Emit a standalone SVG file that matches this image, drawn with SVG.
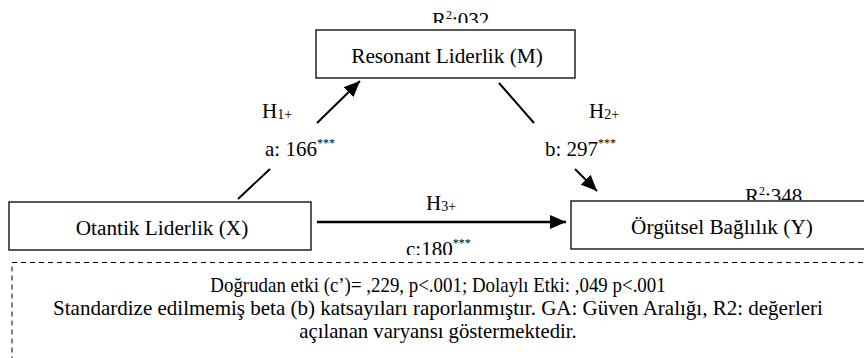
<svg xmlns="http://www.w3.org/2000/svg" width="864" height="358" viewBox="0 0 864 358" font-family="'Liberation Serif', 'Times New Roman', Times, serif">
<style>
text{font-family:'Liberation Serif','Times New Roman',Times,serif;fill:#000}
.lbl{font-size:21.3px}
.h{font-size:21px}
.sub{font-size:14px}
.sup{font-size:12px;fill:#000}
.foot{font-size:21px}
.box{fill:#fff;stroke:#000;stroke-width:1.3}
.ln{stroke:#000;stroke-width:2;fill:none}
</style>
<defs>
<marker id="ah" viewBox="0 0 16 14" refX="16" refY="7" markerWidth="16" markerHeight="14" markerUnits="userSpaceOnUse" orient="auto">
<path d="M0,0 L16,7 L0,14 Z" fill="#000"/>
</marker>
<clipPath id="c1"><rect x="0" y="0" width="864" height="23"/></clipPath>
<clipPath id="c2"><rect x="0" y="0" width="864" height="200"/></clipPath>
<clipPath id="c3"><rect x="0" y="0" width="864" height="255"/></clipPath>
</defs>
<g id="note">
<rect x="12" y="262.5" width="870" height="120" fill="none" stroke="#000" stroke-width="1" stroke-dasharray="5,4"/>
<text class="foot" x="0" y="0" text-anchor="middle" transform="translate(438,292) scale(0.9,1)">Doğrudan etki (c’)= ,229, p&lt;.001; Dolaylı Etki: ,049 p&lt;.001</text>
<text class="foot" x="438" y="315" text-anchor="middle">Standardize edilmemiş beta (b) katsayıları raporlanmıştır. GA: Güven Aralığı, R2: değerleri</text>
<text class="foot" x="438" y="338" text-anchor="middle" style="font-size:20.7px">açılanan varyansı göstermektedir.</text>
</g>
<g id="connectors">
<line class="ln" x1="238" y1="199" x2="270" y2="169"/>
<line class="ln" x1="317" y1="123" x2="360" y2="81" marker-end="url(#ah)"/>
<line class="ln" x1="499" y1="83" x2="534" y2="123"/>
<line class="ln" x1="575" y1="169" x2="597" y2="191" marker-end="url(#ah)"/>
<line class="ln" x1="317" y1="222" x2="566" y2="222" marker-end="url(#ah)" style="stroke-width:2.5"/>
<text class="h" x="262" y="118">H<tspan class="sub" dy="1">1+</tspan></text>
<text class="h" x="265" y="156">a: 166<tspan class="sup" dy="-9">***</tspan></text>
<text class="h" x="589" y="118">H<tspan class="sub" dy="1">2+</tspan></text>
<text class="h" x="545" y="156">b: 297<tspan class="sup" dy="-9">***</tspan></text>
<text class="h" x="426" y="210">H<tspan class="sub" dy="1">3+</tspan></text>
<g clip-path="url(#c3)"><text class="h" x="406" y="256">c:180<tspan class="sup" dy="-9">***</tspan></text></g>
</g>
<g id="M">
<g clip-path="url(#c1)"><text class="h" x="432" y="27">R<tspan class="sup" dy="-8">2</tspan><tspan dy="8">:032</tspan></text></g>
<rect class="box" x="316" y="30" width="259" height="48"/>
<text class="lbl" x="447" y="63" text-anchor="middle">Resonant Liderlik (M)</text>
</g>
<g id="X">
<rect class="box" x="9" y="202" width="302" height="48"/>
<text class="lbl" x="162" y="235" text-anchor="middle">Otantik Liderlik (X)</text>
</g>
<g id="Y">
<g clip-path="url(#c2)"><text class="h" x="745" y="203">R<tspan class="sup" dy="-8">2</tspan><tspan dy="8">:348</tspan></text></g>
<rect class="box" x="571" y="201" width="300" height="48"/>
<text class="lbl" x="722" y="234" text-anchor="middle">Örgütsel Bağlılık (Y)</text>
</g>
</svg>
